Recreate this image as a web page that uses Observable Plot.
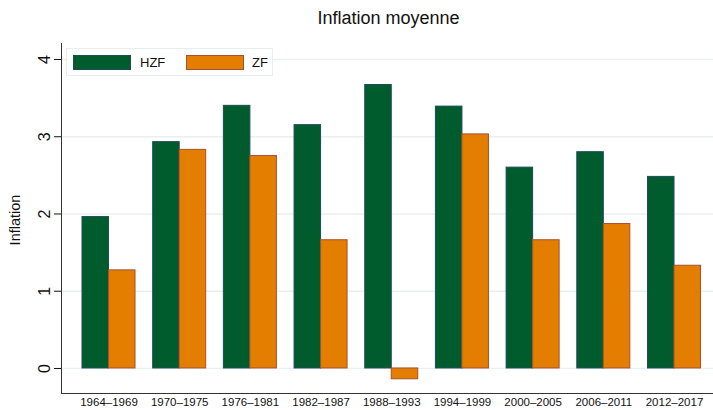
<!DOCTYPE html>
<html><head><meta charset="utf-8">
<script src="https://cdn.jsdelivr.net/npm/d3@7"></script>
<script src="https://cdn.jsdelivr.net/npm/@observablehq/plot@0.6"></script>
<style>
body{margin:0;background:#fff;font-family:"Liberation Sans",Arial,sans-serif;}
#wrap{position:relative;width:713px;height:410px;overflow:hidden;}
#title{position:absolute;left:64px;right:0;top:8px;text-align:center;font-size:18px;color:#111;}
#ylabel{position:absolute;left:15px;top:220px;transform:translate(-50%,-50%) rotate(-90deg);font-size:14.5px;color:#111;white-space:nowrap;}
#legend{position:absolute;left:66px;top:48px;width:207px;height:28px;border:1px solid #e6eeef;background:#fff;box-sizing:border-box;font-size:13px;color:#111;}
.sw{position:absolute;top:6px;width:58px;height:15px;box-sizing:border-box;border:1px solid;}
.lb{position:absolute;top:6px;line-height:15px;}
</style></head>
<body>
<div id="wrap">
  <div id="chart"></div>
  <div id="title">Inflation moyenne</div>
  <div id="ylabel">Inflation</div>
  <div id="legend"></div>
</div>
<script>
const periods = ["1964–1969","1970–1975","1976–1981","1982–1987","1988–1993","1994–1999","2000–2005","2006–2011","2012–2017"];
const hzf = [1.96, 2.93, 3.40, 3.15, 3.67, 3.39, 2.60, 2.80, 2.48];
const zf  = [1.27, 2.83, 2.75, 1.66, -0.14, 3.03, 1.66, 1.87, 1.33];
const series = ["HZF", "ZF"];
const yTicks = [0, 1, 2, 3, 4];

const fills = {HZF: "#005c2c", ZF: "#e47e00"};
const strokes = {HZF: "#1d4a5e", ZF: "#a8502e"};

const rowsH = periods.map((p, i) => ({period: p, series: "HZF", value: hzf[i]}));
const rowsZ = periods.map((p, i) => ({period: p, series: "ZF", value: zf[i]}));

const plot = Plot.plot({
  width: 713,
  height: 410,
  marginLeft: 61,
  marginRight: 0,
  marginTop: 43,
  marginBottom: 17,
  style: {fontFamily: "'Liberation Sans', Arial, sans-serif", color: "#111", background: "#fff"},
  x: {domain: periods, range: [82, 700.5], paddingInner: 0.25, paddingOuter: 0, round: false},
  y: {domain: [-0.324, 4.207]},
  marks: [
    Plot.ruleY(yTicks, {stroke: "#e8f0f1", strokeWidth: 1.3}),
    Plot.barY(rowsH, {x: "period", y: "value", fill: fills.HZF, stroke: strokes.HZF, strokeWidth: 1, insetRight: 26.5}),
    Plot.barY(rowsZ, {x: "period", y: "value", fill: fills.ZF, stroke: strokes.ZF, strokeWidth: 1, insetLeft: 26.5}),
    Plot.frame({anchor: "left", stroke: "#333"}),
    Plot.frame({anchor: "bottom", stroke: "#333"}),
    Plot.axisY(yTicks, {tickRotate: -90, tickSize: 7, tickPadding: 5, fontSize: 16, label: null, tickFormat: d => String(d)}),
    Plot.axisX({tickSize: 0, tickPadding: 4, fontSize: 11.5, label: null})
  ]
});
document.getElementById("chart").appendChild(plot);

const leg = document.getElementById("legend");
const swX = [6, 119], lbX = [73, 185];
series.forEach((s, i) => {
  const sw = document.createElement("div");
  sw.className = "sw";
  sw.style.left = swX[i] + "px";
  sw.style.background = fills[s];
  sw.style.borderColor = strokes[s];
  leg.appendChild(sw);
  const lb = document.createElement("div");
  lb.className = "lb";
  lb.style.left = lbX[i] + "px";
  lb.textContent = s;
  leg.appendChild(lb);
});
</script>
</body></html>
